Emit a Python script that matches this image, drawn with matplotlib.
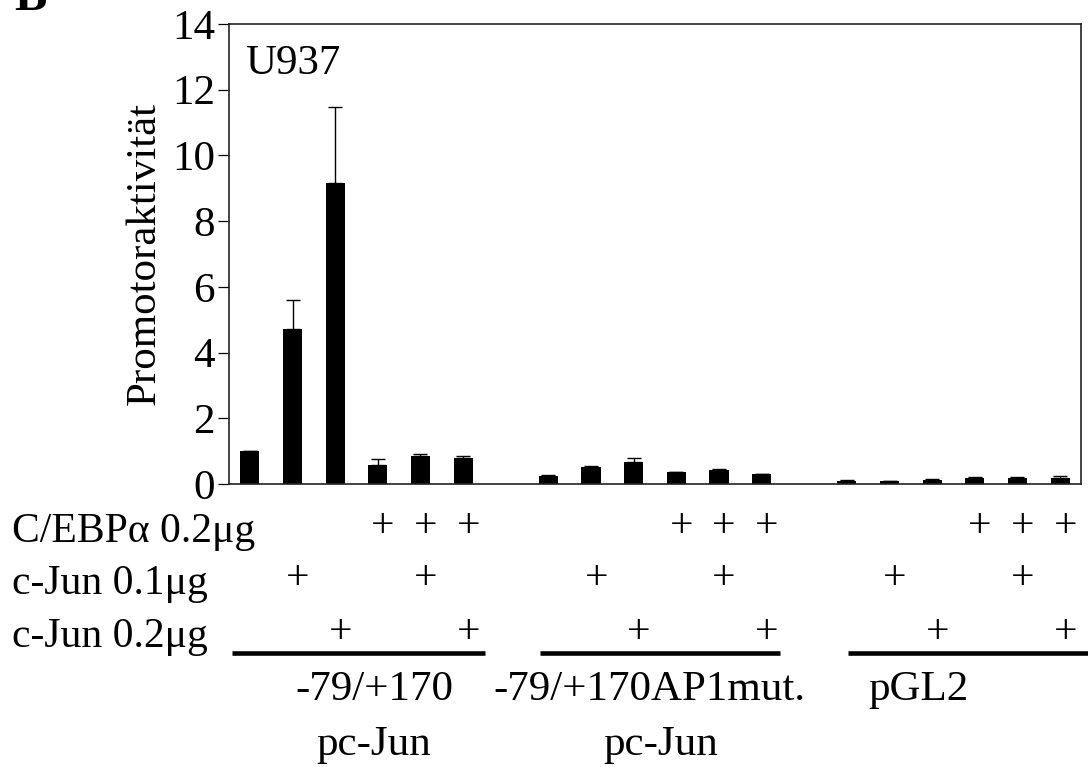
import matplotlib
matplotlib.use("Agg")
import matplotlib.pyplot as plt
import matplotlib.transforms as mtransforms
import numpy as np

plt.rcParams["font.family"] = ["Liberation Serif", "DejaVu Serif"]

# promoter activity (3 constructs x 6 conditions)
activity = [1.0, 4.72, 9.15, 0.59, 0.84, 0.79,
            0.24, 0.53, 0.66, 0.37, 0.43, 0.31,
            0.08, 0.10, 0.11, 0.17, 0.17, 0.17]
err_up = [0.0, 0.87, 2.33, 0.17, 0.07, 0.07,
          0.02, 0.03, 0.13, 0.0, 0.03, 0.0,
          0.04, 0.0, 0.03, 0.03, 0.03, 0.08]

# which plasmids were co-transfected (per bar)
cebpa_02 = [0, 0, 0, 1, 1, 1, 0, 0, 0, 1, 1, 1, 0, 0, 0, 1, 1, 1]
cjun_01 = [0, 1, 0, 0, 1, 0, 0, 1, 0, 0, 1, 0, 0, 1, 0, 0, 1, 0]
cjun_02 = [0, 0, 1, 0, 0, 1, 0, 0, 1, 0, 0, 1, 0, 0, 1, 0, 0, 1]
row_labels = ["C/EBP\u03b1 0.2\u03bcg", "c-Jun 0.1\u03bcg", "c-Jun 0.2\u03bcg"]

constructs = ["-79/+170", "-79/+170AP1mut.", "pGL2"]
vectors = ["pc-Jun", "pc-Jun", ""]
yticks = [0, 2, 4, 6, 8, 10, 12, 14]

n_per_group = 6
xpos = np.array([g * (n_per_group + 1) + i
                 for g in range(len(constructs)) for i in range(n_per_group)])

fig = plt.figure(figsize=(10.88, 7.67), dpi=100)
ax = fig.add_axes([229 / 1088, 0.369, (1081 - 229) / 1088, 0.5997])

ax.bar(xpos, activity, width=0.45, color="black",
       yerr=[np.zeros(len(err_up)), err_up], capsize=5,
       error_kw=dict(elinewidth=1.0, capthick=1.0, ecolor="black"))

ax.set_xlim(-0.49, 19.49)
ax.set_ylim(0, 14)
ax.set_yticks(yticks)
ax.set_yticklabels([str(v) for v in yticks], fontsize=31)
ax.set_xticks([])
ax.tick_params(axis="y", direction="out", length=8, width=0.9, pad=2)
for s in ax.spines.values():
    s.set_linewidth(1.2)
    s.set_color("#222222")

ax.set_ylabel("Promotoraktivit\u00e4t", fontsize=31, labelpad=6)
ax.text(0.019, 0.955, "U937", transform=ax.transAxes, fontsize=31,
        ha="left", va="top")

# panel letter, mostly cut off at the top edge (as in the source figure)
fig.text(14 / 1088, 1 - 10 / 767, "B", fontsize=35, fontweight="bold",
         ha="left", va="baseline")

# condition table under the axis
trans = mtransforms.blended_transform_factory(ax.transData, fig.transFigure)
row_base = [1 - 542 / 767, 1 - 594 / 767, 1 - 647 / 767]
row_mid = [1 - 527 / 767, 1 - 579 / 767, 1 - 633 / 767]
for lab, yb in zip(row_labels, row_base):
    fig.text(12 / 1088, yb, lab, fontsize=30, ha="left", va="baseline")
for flags, ym in zip([cebpa_02, cjun_01, cjun_02], row_mid):
    for x, f in zip(xpos, flags):
        if f:
            ax.text(x + 0.12, ym, "+", transform=trans, fontsize=30,
                    ha="center", va="center", clip_on=False)

# construct underlines and names
line_y = 1 - 653 / 767
line_pad = [(-0.42, 0.51), (-0.2, 0.43), (0.03, 0.8)]
name_off = [(2.91, 2.91), (2.38, 2.64), (1.67, 1.67)]
for g, name in enumerate(constructs):
    first = xpos[g * n_per_group]
    last = xpos[g * n_per_group + n_per_group - 1]
    ax.plot([first + line_pad[g][0], last + line_pad[g][1]], [line_y, line_y],
            transform=trans, color="black", lw=3.3, solid_capstyle="butt",
            clip_on=False)
    ax.text(first + name_off[g][0], 1 - 700 / 767, name, transform=trans,
            fontsize=31, ha="center", va="baseline", clip_on=False)
    if vectors[g]:
        ax.text(first + name_off[g][1], 1 - 755 / 767, vectors[g],
                transform=trans, fontsize=31, ha="center", va="baseline",
                clip_on=False)

fig.savefig("out.png", dpi=100)
